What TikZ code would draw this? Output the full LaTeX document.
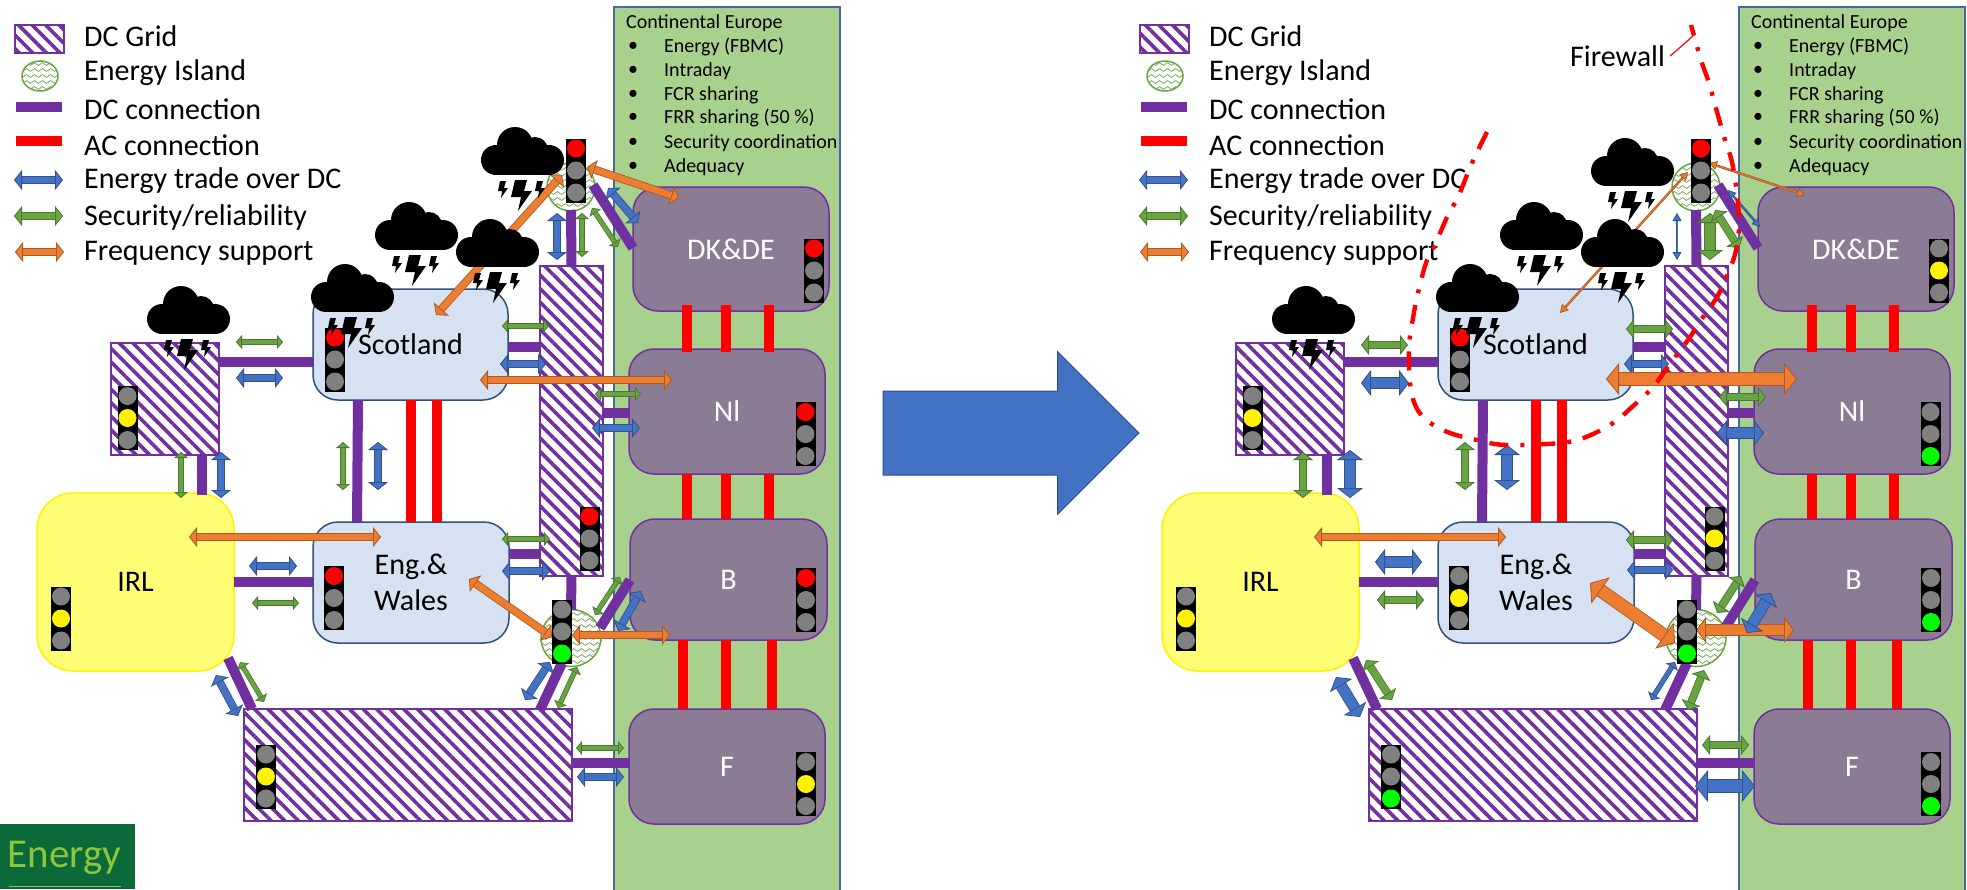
\documentclass[tikz,border=0pt]{standalone}
\usepackage{fontspec}
\setmainfont{Carlito}
\usetikzlibrary{arrows.meta,patterns.meta,shapes.geometric,shapes.arrows,decorations.pathmorphing}
\definecolor{DcPurple}{RGB}{112,48,160}
\definecolor{TradeBlue}{RGB}{68,114,196}
\definecolor{SecGreen}{RGB}{104,165,66}
\definecolor{FreqOrange}{RGB}{237,125,49}
\definecolor{ContGreen}{RGB}{169,209,142}
\definecolor{ContEdge}{RGB}{70,105,160}
\definecolor{TsoGrey}{RGB}{139,123,148}
\definecolor{GbBlue}{RGB}{214,225,241}
\definecolor{GbEdge}{RGB}{47,80,125}
\definecolor{IrlYellow}{RGB}{255,255,117}
\definecolor{LampGrey}{RGB}{128,128,128}
\definecolor{LogoGreen}{RGB}{11,105,58}
\definecolor{LogoText}{RGB}{140,198,63}
\newcommand{\bigfont}{\fontsize{30}{36}\selectfont}
\tikzset{
  tsobox/.style={draw=DcPurple,fill=TsoGrey,line width=1.5pt,rounded corners=25pt,
    inner sep=0pt,align=center,text=white,font=\bigfont},
  gbbox/.style={draw=GbEdge,fill=GbBlue,line width=1.5pt,rounded corners=25pt,
    inner sep=0pt,align=center,font=\bigfont},
  irlbox/.style={draw=yellow,fill=IrlYellow,line width=1.5pt,rounded corners=36pt,
    inner sep=0pt,align=center,font=\bigfont},
  gridbox/.style={draw=DcPurple,line width=1.5pt,inner sep=0pt,preaction={fill=white},
    pattern={Lines[angle=135,distance=9.6pt,line width=3.6pt]},pattern color=DcPurple},
  wavyline/.style={draw=SecGreen,line width=0.7pt,decorate,
    decoration={snake,amplitude=1.4pt,segment length=8pt}},
  islandbox/.style={ellipse,draw=SecGreen,fill=white,line width=1.5pt,inner sep=0pt,
    path picture={\foreach \r in {-24,-18,...,24}
      \draw[wavyline] ([shift={(-32,\r)}]path picture bounding box.center)
        -- ([shift={(32,\r)}]path picture bounding box.center);}},
  trafficbox/.style={fill=black,minimum width=20pt,minimum height=64pt,inner sep=0pt},
  lamp/.style={circle,inner sep=0pt,minimum size=18pt},
  dcline/.style={draw=DcPurple,line width=10pt},
  acline/.style={draw=red,line width=10pt},
  flow/.style n args={4}{draw=#1!72!black,double=#1,double distance=#2,line width=0.8pt,
    {Triangle[width=#3,length=#4,fill=#1,line width=0.8pt]}-{Triangle[width=#3,length=#4,fill=#1,line width=0.8pt]}},
  thinflow/.style={flow={#1}{0.8pt}{9pt}{8pt}},
  smallflow/.style={flow={#1}{3.6pt}{14pt}{6pt}},
  midflow/.style={flow={#1}{6.4pt}{20pt}{8pt}},
  wideflow/.style={flow={#1}{10pt}{26pt}{10pt}},
  bigflow/.style={flow={#1}{12pt}{32pt}{13pt}},
  legendtext/.style={anchor=west,inner sep=0pt,font=\bigfont},
  eurotext/.style={anchor=west,inner sep=0pt,font=\fontsize{20}{24}\selectfont},
  firewall/.style={draw=red,line width=4.4pt,dash pattern=on 19pt off 12pt on 4pt off 12pt},
  stormcloud/.pic={
    \fill[black] (17,33) circle[radius=15] (36,18) circle[radius=18]
      (56,23) circle[radius=13] (70,33) circle[radius=15];
    \fill[black] (17,30) rectangle (70,48);
    \fill[black] (36,53) -- (48,53) -- (45,64) -- (53,64) -- (39,84) -- (42,70) -- (32,70) -- cycle;
    \foreach \sx in {0,37}{
      \fill[black] (21+\sx,54) -- (27+\sx,54) -- (25+\sx,61) -- (29+\sx,61)
        -- (22+\sx,71) -- (23+\sx,64) -- (19+\sx,64) -- cycle;}
  }
}
% connector between two boxes of the current panel, ends given from the box centres
\newcommand{\link}[5]{\draw[#1] ([shift={(#3)}]#2\pn.center) -- ([shift={(#5)}]#4\pn.center);}
% signal: box it belongs to, position, lit lamp (1 red, 2 yellow, 3 green)
\newcommand{\signal}[3]{
  \node[trafficbox] (light#1\pn) at (#2) {};
  \foreach \k/\col in {1/red,2/yellow,3/green}{
    \ifnum\k=#3 \def\lampcol{\col}\else\def\lampcol{LampGrey}\fi
    \node[lamp,fill=\lampcol] (lamp#1\k\pn) at ([shift={(0,{(\k-2)*22})}]light#1\pn.center) {};}
}
\newcommand{\panelbase}[1]{
  \def\pn{#1}
  % legend
  \foreach \i/\ly/\txt in {1/36/DC Grid,2/73/Energy Island,3/109/DC connection,4/145/AC connection,
    5/181/Energy trade over DC,6/217/{Security/reliability},7/253/Frequency support}{
    \node[legendtext] (leg\i\pn) at (84,\ly) {\txt};}
  \node[gridbox,minimum width=49pt,minimum height=28pt] (keygrid\pn) at (39.5,39) {};
  \node[islandbox,minimum width=36pt,minimum height=30pt] (keyisland\pn) at (40,76) {};
  \draw[dcline] ([shift={(-68,-2)}]leg3\pn.west) -- ([shift={(-22,-2)}]leg3\pn.west);
  \draw[acline] ([shift={(-68,-4)}]leg4\pn.west) -- ([shift={(-22,-4)}]leg4\pn.west);
  \draw[midflow=TradeBlue] ([shift={(-70,-1)}]leg5\pn.west) -- ([shift={(-21,-1)}]leg5\pn.west);
  \draw[midflow=SecGreen] ([shift={(-70,-1)}]leg6\pn.west) -- ([shift={(-21,-1)}]leg6\pn.west);
  \draw[midflow=FreqOrange] ([shift={(-69,-1)}]leg7\pn.west) -- ([shift={(-20,-1)}]leg7\pn.west);
  % continental block
  \node[draw=ContEdge,fill=ContGreen,line width=1.5pt,minimum width=226pt,minimum height=884pt,inner sep=0pt]
    (cont\pn) at (727,449) {};
  \node[eurotext] (euro0\pn) at (626,23) {Continental Europe};
  \foreach \i/\ly/\txt in {1/47/Energy (FBMC),2/71/Intraday,3/95/FCR sharing,4/118/FRR sharing (50 \%),
    5/143/Security coordination,6/167/Adequacy}{
    \node[eurotext] (bull\i\pn) at (628,\ly) {•};
    \node[eurotext] (euro\i\pn) at (664,\ly) {\txt};}
  % boxes
  \node[gridbox,minimum width=108pt,minimum height=112pt] (gridA\pn) at (165,399) {};
  \node[gridbox,minimum width=63pt,minimum height=310pt] (gridB\pn) at (571.5,421) {};
  \node[gridbox,minimum width=328pt,minimum height=112pt] (gridC\pn) at (408,765) {};
  \node[gbbox,minimum width=195pt,minimum height=111pt] (scot\pn) at (410.5,344.5) {\raisebox{-2.5pt}{Scotland}};
  \node[gbbox,minimum width=196pt,minimum height=121pt] (eng\pn) at (411,582.5) {Eng.\&\\Wales};
  \node[irlbox,minimum width=197pt,minimum height=178pt] (irl\pn) at (135.5,582) {IRL};
  \node[tsobox,minimum width=196pt,minimum height=124pt] (dkde\pn) at (731,249) {DK\&DE};
  \node[tsobox,minimum width=196pt,minimum height=125pt] (nl\pn) at (727,411.5) {Nl};
  \node[tsobox,minimum width=197pt,minimum height=121pt] (be\pn) at (728.5,579.5) {B};
  \node[tsobox,minimum width=196pt,minimum height=115pt] (fr\pn) at (727,766.5) {F};
  \node[islandbox,minimum width=48pt,minimum height=48pt] (islN\pn) at (571,187) {};
  \node[islandbox,minimum width=60pt,minimum height=57pt] (islS\pn) at (571,638) {};
  % AC connections
  \link{acline}{dkde}{-44,56}{nl}{-40,-59.5}
  \link{acline}{dkde}{-5,56}{nl}{-1,-59.5}
  \link{acline}{dkde}{38,56}{nl}{42,-59.5}
  \link{acline}{nl}{-40,62.5}{be}{-41.5,-60.5}
  \link{acline}{nl}{-1,62.5}{be}{-2.5,-60.5}
  \link{acline}{nl}{42,62.5}{be}{40.5,-60.5}
  \link{acline}{be}{-45.5,60.5}{fr}{-44,-57.5}
  \link{acline}{be}{-2.5,60.5}{fr}{-1,-57.5}
  \link{acline}{be}{43.5,60.5}{fr}{45,-57.5}
  \link{acline}{scot}{0.5,55.5}{eng}{0,-60.5}
  \link{acline}{scot}{26.5,55.5}{eng}{26,-60.5}
  % DC connections
  \link{dcline}{gridA}{54,-37}{scot}{-97.5,17.5}
  \link{dcline}{scot}{-52.5,55.5}{eng}{-54,-60.5}
  \link{dcline}{gridA}{37,56}{irl}{66.5,-87}
  \link{dcline}{scot}{97.5,2.5}{gridB}{-31.5,-74}
  \link{dcline}{gridB}{31.5,-8}{nl}{-97,1.5}
  \link{dcline}{eng}{98,-28.5}{gridB}{-31.5,133}
  \link{dcline}{irl}{98.5,0}{eng}{-98,-0.5}
  \link{dcline}{gridB}{0,155}{islS}{0,-28}
  \link{dcline}{islN}{0,23}{gridB}{0,-155}
  \link{dcline}{islN}{22,-2}{dkde}{-98,-1}
  \link{dcline}{islS}{29,-10}{be}{-98.5,0.5}
  \link{dcline}{islS}{-9,25}{gridC}{132,-55}
  \link{dcline}{irl}{92.5,76}{gridC}{-156,-56}
  \link{dcline}{gridC}{164,-2}{fr}{-98,-3.5}
}
\begin{document}
\begin{tikzpicture}[x=1pt,y=-1pt]
  \fill[white] (0,0) rectangle (1967,889);
  \useasboundingbox (0,0) rectangle (1967,889);

  % left panel
  \begin{scope}
    \panelbase{L}
    \link{smallflow=SecGreen}{gridA}{71,-57}{scot}{-127.5,-2.5}
    \link{midflow=TradeBlue}{gridA}{71,-21}{scot}{-127.5,33.5}
    \link{smallflow=SecGreen}{scot}{-67.5,97.5}{eng}{-68,-92.5}
    \link{midflow=TradeBlue}{scot}{-32.5,97.5}{eng}{-33,-92.5}
    \link{smallflow=SecGreen}{gridA}{16,53}{irl}{45.5,-84}
    \link{midflow=TradeBlue}{gridA}{56,53}{irl}{85.5,-84}
    \link{smallflow=SecGreen}{scot}{91.5,-18.5}{gridB}{-22.5,-95}
    \link{midflow=TradeBlue}{scot}{89.5,19.5}{gridB}{-25.5,-57}
    \link{midflow=FreqOrange}{scot}{69.5,35.5}{nl}{-55,-31.5}
    \link{smallflow=SecGreen}{gridB}{23.5,-27}{nl}{-86,-17.5}
    \link{midflow=TradeBlue}{gridB}{20.5,7}{nl}{-87,16.5}
    \link{smallflow=SecGreen}{eng}{91,-43.5}{gridB}{-21.5,118}
    \link{midflow=TradeBlue}{eng}{91,-11.5}{gridB}{-21.5,150}
    \link{midflow=FreqOrange}{irl}{53.5,-45}{eng}{-30,-45.5}
    \link{midflow=TradeBlue}{irl}{113.5,-16}{eng}{-114,-16.5}
    \link{smallflow=SecGreen}{irl}{116.5,21}{eng}{-112,20.5}
    \link{midflow=FreqOrange}{eng}{58,-3.5}{islS}{-19,-1}
    \link{midflow=FreqOrange}{islS}{1,-3}{be}{-58.5,55.5}
    \link{midflow=TradeBlue}{islN}{-14,26}{gridB}{-14.5,-161}
    \link{smallflow=SecGreen}{islN}{11,26}{gridB}{10.5,-164}
    \link{smallflow=SecGreen}{islN}{21,21}{dkde}{-113,-2}
    \link{midflow=TradeBlue}{islN}{37,1}{dkde}{-93,-26}
    \link{midflow=FreqOrange}{islN}{16,-20}{dkde}{-52,-51}
    \link{midflow=FreqOrange}{islN}{-9,-12}{scot}{25.5,-29.5}
    \link{smallflow=SecGreen}{islS}{24,-23}{be}{-108.5,-2.5}
    \link{midflow=TradeBlue}{islS}{47,-7}{be}{-87.5,11.5}
    \link{midflow=TradeBlue}{islS}{-21,24}{gridC}{117,-65}
    \link{smallflow=SecGreen}{islS}{6,29}{gridC}{150,-57}
    \link{smallflow=SecGreen}{irl}{104.5,80}{gridC}{-144,-63}
    \link{midflow=TradeBlue}{irl}{80.5,93}{gridC}{-170,-49}
    \link{smallflow=SecGreen}{gridC}{168,-17}{fr}{-103,-18.5}
    \link{midflow=TradeBlue}{gridC}{169,12}{fr}{-103,10.5}
    \signal{gridA}{127.5,418}{2}
    \signal{scot}{335,359.5}{1}
    \signal{dkde}{814,270.5}{1}
    \signal{nl}{805.5,434}{1}
    \signal{gridB}{589.5,538.5}{1}
    \signal{irl}{61,618.5}{2}
    \signal{eng}{334,598}{1}
    \signal{be}{806,600}{1}
    \signal{fr}{806,784}{2}
    \signal{gridC}{266,776.5}{2}
    \signal{islN}{576,170.5}{1}
    \signal{islS}{562,631.5}{3}
    \foreach \cx/\cy in {479/127,373/202,454/219,309/264,145/286}{
      \pic at (\cx,\cy) {stormcloud};}
  \end{scope}

  % right panel
  \begin{scope}[xshift=1125pt]
    \panelbase{R}
    \link{midflow=SecGreen}{gridA}{71,-54}{scot}{-127.5,0.5}
    \link{wideflow=TradeBlue}{gridA}{71,-16}{scot}{-126.5,38.5}
    \link{midflow=SecGreen}{scot}{-70.5,97.5}{eng}{-71,-92.5}
    \link{wideflow=TradeBlue}{scot}{-28.5,100.5}{eng}{-29,-92.5}
    \link{midflow=SecGreen}{gridA}{13,53}{irl}{42.5,-84}
    \link{wideflow=TradeBlue}{gridA}{60,51}{irl}{89.5,-84}
    \link{midflow=SecGreen}{scot}{90.5,-15.5}{gridB}{-23.5,-92}
    \link{midflow=TradeBlue}{scot}{88.5,19.5}{gridB}{-27.5,-57}
    \link{bigflow=FreqOrange}{scot}{70.5,34.5}{nl}{-55,-32.5}
    \link{midflow=SecGreen}{gridB}{22.5,-24}{nl}{-86,-14.5}
    \link{wideflow=TradeBlue}{gridB}{20.5,12}{nl}{-88,21.5}
    \link{midflow=SecGreen}{eng}{90,-42.5}{gridB}{-23.5,119}
    \link{midflow=TradeBlue}{eng}{91,-12.5}{gridB}{-23.5,149}
    \link{midflow=FreqOrange}{irl}{53.5,-45}{eng}{-30,-45.5}
    \link{wideflow=TradeBlue}{irl}{114.5,-20}{eng}{-114,-20.5}
    \link{midflow=SecGreen}{irl}{116.5,18}{eng}{-112,17.5}
    \link{bigflow=FreqOrange}{eng}{54,0.5}{islS}{-21,5}
    \link{wideflow=FreqOrange}{islS}{0,-8}{be}{-59.5,50.5}
    \link{thinflow=TradeBlue}{islN}{-19,26}{gridB}{-19.5,-161}
    \link{wideflow=SecGreen}{islN}{14,26}{gridB}{13.5,-161}
    \link{midflow=SecGreen}{islN}{19,23}{dkde}{-117,-1}
    \link{thinflow=TradeBlue}{islN}{32,3}{dkde}{-96,-22}
    \link{thinflow=FreqOrange}{islN}{13,-24}{dkde}{-51,-54}
    \link{thinflow=FreqOrange}{islN}{-8,-15}{scot}{24.5,-31.5}
    \link{midflow=SecGreen}{islS}{21,-25}{be}{-112.5,-3.5}
    \link{wideflow=TradeBlue}{islS}{51,-5}{be}{-82.5,13.5}
    \link{smallflow=TradeBlue}{islS}{-21,24}{gridC}{118,-65}
    \link{midflow=SecGreen}{islS}{8,32}{gridC}{155,-55}
    \link{midflow=SecGreen}{irl}{105.5,78}{gridC}{-141,-65}
    \link{wideflow=TradeBlue}{irl}{75.5,95}{gridC}{-173,-48}
    \link{midflow=SecGreen}{gridC}{169,-20}{fr}{-103,-21.5}
    \link{bigflow=TradeBlue}{gridC}{162,21}{fr}{-97,19.5}
    \signal{gridA}{127.5,418}{2}
    \signal{scot}{335,359.5}{1}
    \signal{dkde}{814,270.5}{2}
    \signal{nl}{805.5,434}{3}
    \signal{gridB}{589.5,538.5}{2}
    \signal{irl}{61,618.5}{2}
    \signal{eng}{334,598}{2}
    \signal{be}{806,600}{3}
    \signal{fr}{806,784}{3}
    \signal{gridC}{266,776.5}{3}
    \signal{islN}{576,170.5}{1}
    \signal{islS}{562,631.5}{3}
    \foreach \cx/\cy in {464/138,373/202,454/219,309/264,145/286}{
      \pic at (\cx,\cy) {stormcloud};}
  \end{scope}

  % transition arrow
  \node[single arrow,draw=GbEdge,fill=TradeBlue,line width=1pt,inner xsep=0pt,inner ysep=41.5pt,minimum height=256pt,
    single arrow head extend=39.5pt,single arrow head indent=0pt] (change) at (990,433) {};

  % firewall
  \draw[firewall] plot[smooth,tension=0.6] coordinates {(1487,132) (1472,163) (1458,197) (1448,215) (1434,247)
    (1426,263) (1418,293) (1413,318) (1409,347) (1410,383) (1416,407) (1429,422) (1450,433) (1477,440)
    (1506,445) (1560,443) (1586,437) (1613,423) (1632,407) (1653,387) (1669,365) (1688,340) (1701,320)
    (1717,297) (1728,273) (1736,250) (1739,217) (1733,167) (1725,140) (1717,112) (1709,83) (1701,60) (1691,25)};
  \node[legendtext] (fwlabel) at (1570,56) {Firewall};
  \coordinate (fwtip) at (1693,36);
  \draw[red,line width=1.2pt] (fwlabel.east) ++(5,0) -- (fwtip);

  % logo corner
  \node[fill=LogoGreen,minimum width=135pt,minimum height=65pt,inner sep=0pt] (logo) at (67.5,856.5) {};
  \node[inner sep=0pt,text=LogoText,font=\fontsize{41}{46}\selectfont] (logotext) at (64.5,858) {Energy};
  \draw[LogoText,line width=1pt] ([shift={(-59,29.5)}]logo.center) -- ([shift={(53,29.5)}]logo.center);
\end{tikzpicture}
\end{document}
